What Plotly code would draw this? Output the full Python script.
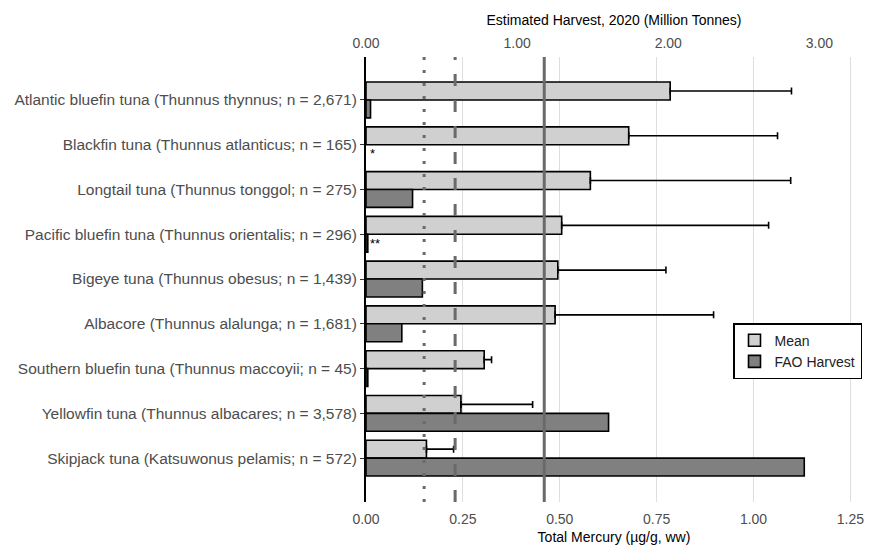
import plotly.graph_objects as go

species = [
    "Atlantic bluefin tuna (Thunnus thynnus; n = 2,671)",
    "Blackfin tuna (Thunnus atlanticus; n = 165)",
    "Longtail tuna (Thunnus tonggol; n = 275)",
    "Pacific bluefin tuna (Thunnus orientalis; n = 296)",
    "Bigeye tuna (Thunnus obesus; n = 1,439)",
    "Albacore (Thunnus alalunga; n = 1,681)",
    "Southern bluefin tuna (Thunnus maccoyii; n = 45)",
    "Yellowfin tuna (Thunnus albacares; n = 3,578)",
    "Skipjack tuna (Katsuwonus pelamis; n = 572)",
]
mean_hg = [0.785, 0.678, 0.579, 0.505, 0.495, 0.488, 0.305, 0.245, 0.156]
sd_hg = [0.313, 0.384, 0.517, 0.534, 0.279, 0.409, 0.019, 0.185, 0.070]
harvest_mt = [0.030, None, 0.308, 0.012, 0.373, 0.237, 0.012, 1.605, 2.900]

thresholds = [0.15, 0.23, 0.46]
threshold_dash = ["3px,10px", "12px,14px", "solid"]

mercury_ticks = [0.0, 0.25, 0.5, 0.75, 1.0, 1.25]
harvest_ticks = [0, 1, 2, 3]
star_labels = {1: "*", 3: "**"}

hg_max = 1.28
mt_per_hg = 1 / 0.39  # secondary axis scaling

FONT = "Liberation Sans, Arial, sans-serif"

fig = go.Figure()
fig.add_trace(go.Bar(
    name="Mean", y=species, x=mean_hg, orientation="h",
    xaxis="x", yaxis="y",
    width=0.4, offset=-0.4,
    marker=dict(color="#d0d0d0", line=dict(color="black", width=1.6)),
    error_x=dict(type="data", array=sd_hg, arrayminus=[0] * len(sd_hg),
                 symmetric=False, color="black", thickness=1.6, width=3.5),
))
fig.add_trace(go.Bar(
    name="FAO Harvest", y=species, x=harvest_mt, orientation="h",
    xaxis="x2", yaxis="y",
    width=0.4, offset=0.0,
    marker=dict(color="#808080", line=dict(color="black", width=1.6)),
))

shapes = []
for t, d in zip(thresholds, threshold_dash):
    shapes.append(dict(type="line", xref="x", yref="paper", x0=t, x1=t, y0=0, y1=1,
                       line=dict(color="#6a6a6a", width=3, dash=d), layer="above"))

annotations = []
for i, s in star_labels.items():
    annotations.append(dict(x=0.005, y=species[i], xref="x", yref="y", text=s,
                            showarrow=False, xanchor="left", yanchor="middle",
                            yshift=-9, font=dict(family=FONT, size=13, color="black")))

# page body has an 8px default margin, so the figure is sized to fit the window
fig.update_layout(
    width=866, height=537,
    margin=dict(l=358, r=12, t=49, b=43, autoexpand=False),
    paper_bgcolor="white", plot_bgcolor="white",
    font=dict(family=FONT, size=14, color="#4d4d4d"),
    barmode="overlay",
    showlegend=True,
    legend=dict(x=1.0, y=0.402, xanchor="right", yanchor="top",
                bgcolor="white", bordercolor="black", borderwidth=1.5,
                font=dict(family=FONT, size=14, color="#222222"),
                itemwidth=30, tracegroupgap=0),
    xaxis=dict(range=[0, hg_max], tickvals=mercury_ticks, tickformat=".2f",
               showgrid=True, gridcolor="#dedede", gridwidth=1, zeroline=False,
               showline=False, ticks="", side="bottom", automargin=False,
               ticklabelstandoff=7,
               title=dict(text="Total Mercury (µg/g, ww)", standoff=7,
                          font=dict(family=FONT, size=14, color="black")),
               tickfont=dict(family=FONT, size=14, color="#4d4d4d")),
    xaxis2=dict(range=[0, hg_max * mt_per_hg], tickvals=harvest_ticks, tickformat=".2f",
                overlaying="x", side="top", showgrid=False, zeroline=False,
                showline=False, ticks="", automargin=False, ticklabelstandoff=5,
                title=dict(text="Estimated Harvest, 2020 (Million Tonnes)", standoff=6,
                           font=dict(family=FONT, size=14, color="black")),
                tickfont=dict(family=FONT, size=14, color="#4d4d4d")),
    yaxis=dict(type="category", categoryorder="array", categoryarray=species,
               range=[8.98, -0.96], showgrid=False, zeroline=False,
               showline=True, linecolor="black", linewidth=2, automargin=False,
               ticks="outside", ticklen=4, tickcolor="#333333", tickwidth=1,
               tickfont=dict(family=FONT, size=15.5, color="#4d4d4d")),
    shapes=shapes,
    annotations=annotations,
)

fig.write_html("out.html")
